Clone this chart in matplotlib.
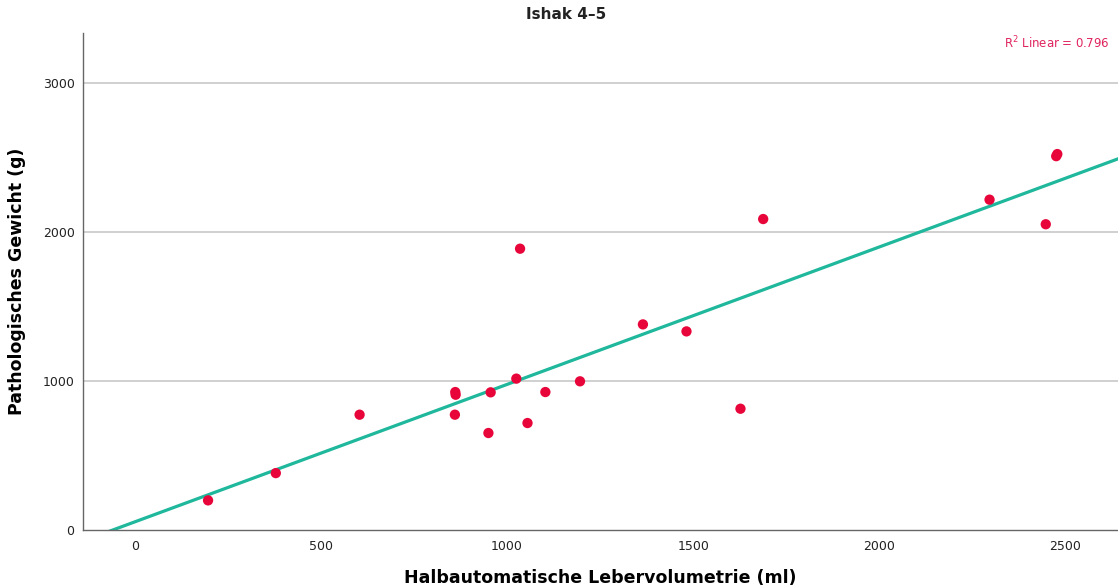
import numpy as np
import matplotlib.pyplot as plt

# ------------------------------------
# DATA
# ------------------------------------

volume_ml = [197, 379, 604, 861, 862, 860, 956, 950, 1025, 1035, 1055,
             1103, 1196, 1365, 1482, 1627, 1688, 2296, 2447, 2475, 2478]
weight_g = [199, 382, 774, 926, 908, 774, 924, 651, 1016, 1888, 718,
            926, 998, 1380, 1333, 814, 2087, 2217, 2052, 2509, 2523]

x_ticks = [0, 500, 1000, 1500, 2000, 2500]
y_ticks = [0, 1000, 2000, 3000]

R2_TEXT = "R$^2$ Linear = 0.796"

POINT_COLOR = "#e8053a"
LINE_COLOR = "#1fb89c"

# ------------------------------------
# FIGURE
# ------------------------------------

fig = plt.figure(figsize=(11.18, 5.88), dpi=100)
ax = fig.add_axes([0.0742, 0.0986, 0.9258, 0.8454])

ax.set_xlim(-139, 2641)
ax.set_ylim(0, 3336)

# horizontal grid lines
for yv in y_ticks[1:]:
    ax.axhline(yv, color="#c8c8c8", linewidth=1.2, zorder=0)

# linear fit line across the whole x range
slope, intercept = np.polyfit(volume_ml, weight_g, 1)
xs = np.array([-139, 2641])
ax.plot(xs, slope * xs + intercept, color=LINE_COLOR, linewidth=2.3, zorder=2)

ax.scatter(volume_ml, weight_g, s=55, color=POINT_COLOR, edgecolors="none", zorder=3)

ax.set_xticks(x_ticks)
ax.set_yticks(y_ticks)
ax.tick_params(axis="both", length=0, labelsize=9, colors="#222222")
ax.tick_params(axis="x", pad=7)
ax.tick_params(axis="y", pad=6)

for side in ("top", "right"):
    ax.spines[side].set_visible(False)
for side in ("left", "bottom"):
    ax.spines[side].set_color("#666666")
    ax.spines[side].set_linewidth(1.0)

ax.set_xlabel("Halbautomatische Lebervolumetrie (ml)", fontsize=12.5,
              fontweight="bold", labelpad=12)
ax.set_ylabel("Pathologisches Gewicht (g)", fontsize=12.5,
              fontweight="bold", labelpad=12)

fig.text(0.506, 0.976, "Ishak 4\u20135", ha="center", va="center",
         fontsize=11, fontweight="bold", color="#222222")

ax.text(0.9915, 0.98, R2_TEXT, transform=ax.transAxes, ha="right", va="center",
        fontsize=8.5, color="#e0245e")

fig.savefig("out.png", dpi=100)
